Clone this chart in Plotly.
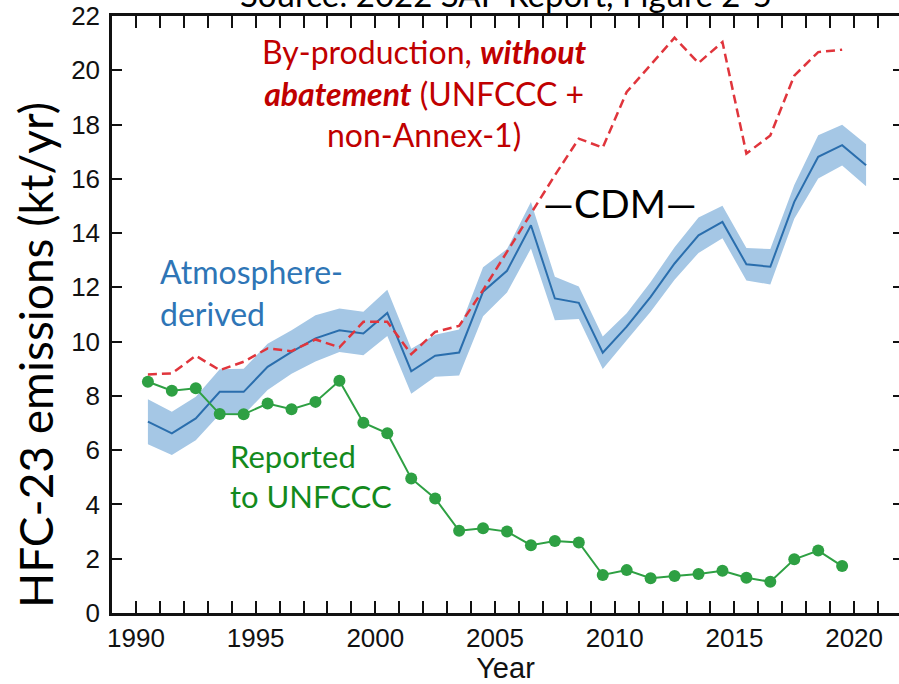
import plotly.graph_objects as go

# HFC-23 emissions, kt/yr (values plotted at mid-year)
years_atm = [1990.5, 1991.5, 1992.5, 1993.5, 1994.5, 1995.5, 1996.5, 1997.5, 1998.5, 1999.5,
             2000.5, 2001.5, 2002.5, 2003.5, 2004.5, 2005.5, 2006.5, 2007.5, 2008.5, 2009.5,
             2010.5, 2011.5, 2012.5, 2013.5, 2014.5, 2015.5, 2016.5, 2017.5, 2018.5, 2019.5,
             2020.5]
atmosphere_derived = [7.05, 6.62, 7.17, 8.15, 8.15, 9.07, 9.62, 10.12, 10.42, 10.30,
                      11.06, 8.91, 9.48, 9.60, 11.84, 12.61, 14.29, 11.59, 11.43, 9.59,
                      10.55, 11.65, 12.88, 13.92, 14.41, 12.85, 12.76, 15.15, 16.81, 17.24,
                      16.50]
atmosphere_unc = [0.83, 0.80, 0.80, 0.83, 0.85, 0.85, 0.80, 0.85, 0.80, 0.80,
                  0.85, 0.83, 0.77, 0.85, 0.90, 0.80, 0.86, 0.80, 0.60, 0.60,
                  0.50, 0.55, 0.60, 0.65, 0.60, 0.60, 0.65, 0.62, 0.80, 0.75,
                  0.77]

years_rep = [1990.5, 1991.5, 1992.5, 1993.5, 1994.5, 1995.5, 1996.5, 1997.5, 1998.5, 1999.5,
             2000.5, 2001.5, 2002.5, 2003.5, 2004.5, 2005.5, 2006.5, 2007.5, 2008.5, 2009.5,
             2010.5, 2011.5, 2012.5, 2013.5, 2014.5, 2015.5, 2016.5, 2017.5, 2018.5, 2019.5]
byproduction = [8.79, 8.83, 9.48, 8.95, 9.26, 9.75, 9.65, 10.08, 9.79, 10.73,
                10.73, 9.54, 10.36, 10.58, 11.90, 13.31, 14.72, 16.13, 17.48, 17.15,
                19.20, 20.18, 21.20, 20.27, 21.04, 16.93, 17.60, 19.80, 20.67, 20.76]
reported_unfccc = [8.52, 8.19, 8.28, 7.33, 7.32, 7.72, 7.51, 7.78, 8.56, 7.01,
                   6.62, 4.96, 4.22, 3.03, 3.12, 3.00, 2.50, 2.65, 2.60, 1.40,
                   1.58, 1.28, 1.36, 1.44, 1.56, 1.30, 1.15, 1.98, 2.30, 1.73]

x_ticks = [1990, 1995, 2000, 2005, 2010, 2015, 2020]
y_ticks = [0, 2, 4, 6, 8, 10, 12, 14, 16, 18, 20, 22]

BLUE_LINE = "#2a6ead"
BLUE_BAND = "#a5c7e5"
RED_LINE = "#e0353c"
GREEN = "#2ea043"
TICK_FONT = dict(family="Liberation Sans, Arial, sans-serif", size=26, color="#111111")
LABEL_FONT = "Lato, Calibri, sans-serif"

upper = [m + u for m, u in zip(atmosphere_derived, atmosphere_unc)]
lower = [m - u for m, u in zip(atmosphere_derived, atmosphere_unc)]

fig = go.Figure()

# uncertainty band of the atmosphere-derived estimate
fig.add_trace(go.Scatter(x=years_atm, y=lower, mode="lines", line=dict(width=0),
                         hoverinfo="skip", showlegend=False))
fig.add_trace(go.Scatter(x=years_atm, y=upper, mode="lines", line=dict(width=0),
                         fill="tonexty", fillcolor=BLUE_BAND, hoverinfo="skip",
                         showlegend=False))
fig.add_trace(go.Scatter(x=years_atm, y=atmosphere_derived, mode="lines",
                         line=dict(color=BLUE_LINE, width=2), showlegend=False))
fig.add_trace(go.Scatter(x=years_rep, y=byproduction, mode="lines",
                         line=dict(color=RED_LINE, width=2.5, dash="9px,5px"),
                         showlegend=False))
fig.add_trace(go.Scatter(x=years_rep, y=reported_unfccc, mode="lines+markers",
                         line=dict(color=GREEN, width=2),
                         marker=dict(color=GREEN, size=12), showlegend=False))
# tick marks on the right-hand edge
fig.add_trace(go.Scatter(x=[None], y=[None], yaxis="y2", showlegend=False))

fig.update_layout(
    width=899, height=684,
    margin=dict(l=112, r=0, t=16, b=71),
    paper_bgcolor="white", plot_bgcolor="white",
    xaxis=dict(
        range=[1989, 2021.875], tickvals=x_ticks, ticks="inside", ticklen=12,
        tickwidth=2, tickcolor="#111111", showline=True, linewidth=2.5,
        linecolor="#111111", mirror="allticks", showgrid=False, zeroline=False,
        tickfont=TICK_FONT,
        minor=dict(dtick=1, tick0=1990, ticks="inside", ticklen=5, tickwidth=2,
                   tickcolor="#111111", showgrid=False),
        title=dict(text="Year", font=dict(TICK_FONT, size=29), standoff=4),
    ),
    yaxis=dict(
        range=[0, 22], tickvals=y_ticks, ticks="inside", ticklen=10, tickwidth=2,
        tickcolor="#111111", showline=True, linewidth=2.5, linecolor="#111111",
        showgrid=False, zeroline=False, tickfont=TICK_FONT, ticklabelstandoff=4,
    ),
    yaxis2=dict(
        range=[0, 22], tickvals=y_ticks, overlaying="y", side="right",
        ticks="inside", ticklen=6, tickwidth=2, tickcolor="#111111",
        showticklabels=False, showline=False, showgrid=False, zeroline=False,
    ),
)

annotations = [
    dict(text="Source: 2022 SAP Report, Figure 2-5", xref="paper", yref="paper",
         x=0.5, y=1.0, xanchor="center", yanchor="bottom", showarrow=False,
         font=dict(family=LABEL_FONT, size=33, color="black")),
    dict(text="HFC-23 emissions (kt/yr)", xref="paper", yref="paper",
         x=-0.098, y=0.432, xanchor="center", yanchor="middle", textangle=-90,
         showarrow=False, font=dict(family=LABEL_FONT, size=46, color="black")),
    dict(text="By-production, <b><i>without</i></b><br><b><i>abatement</i></b> (UNFCCC +<br>non-Annex-1)",
         x=2002.05, y=19.15, xanchor="center", yanchor="middle", align="center",
         showarrow=False, font=dict(family=LABEL_FONT, size=32, color="#c00000")),
    dict(text="—CDM—", x=2010.22, y=15.1, xanchor="center", yanchor="middle",
         showarrow=False, font=dict(family=LABEL_FONT, size=39, color="black")),
    dict(text="Atmosphere-<br>derived", x=1990.92, y=11.8, xanchor="left",
         yanchor="middle", align="left", showarrow=False,
         font=dict(family=LABEL_FONT, size=32, color="#2e75b6")),
    dict(text="Reported<br>to UNFCCC", x=1993.85, y=5.05, xanchor="left",
         yanchor="middle", align="left", showarrow=False,
         font=dict(family=LABEL_FONT, size=31, color="#138a1c")),
]
fig.update_layout(annotations=annotations)

fig.write_html("out.html")
